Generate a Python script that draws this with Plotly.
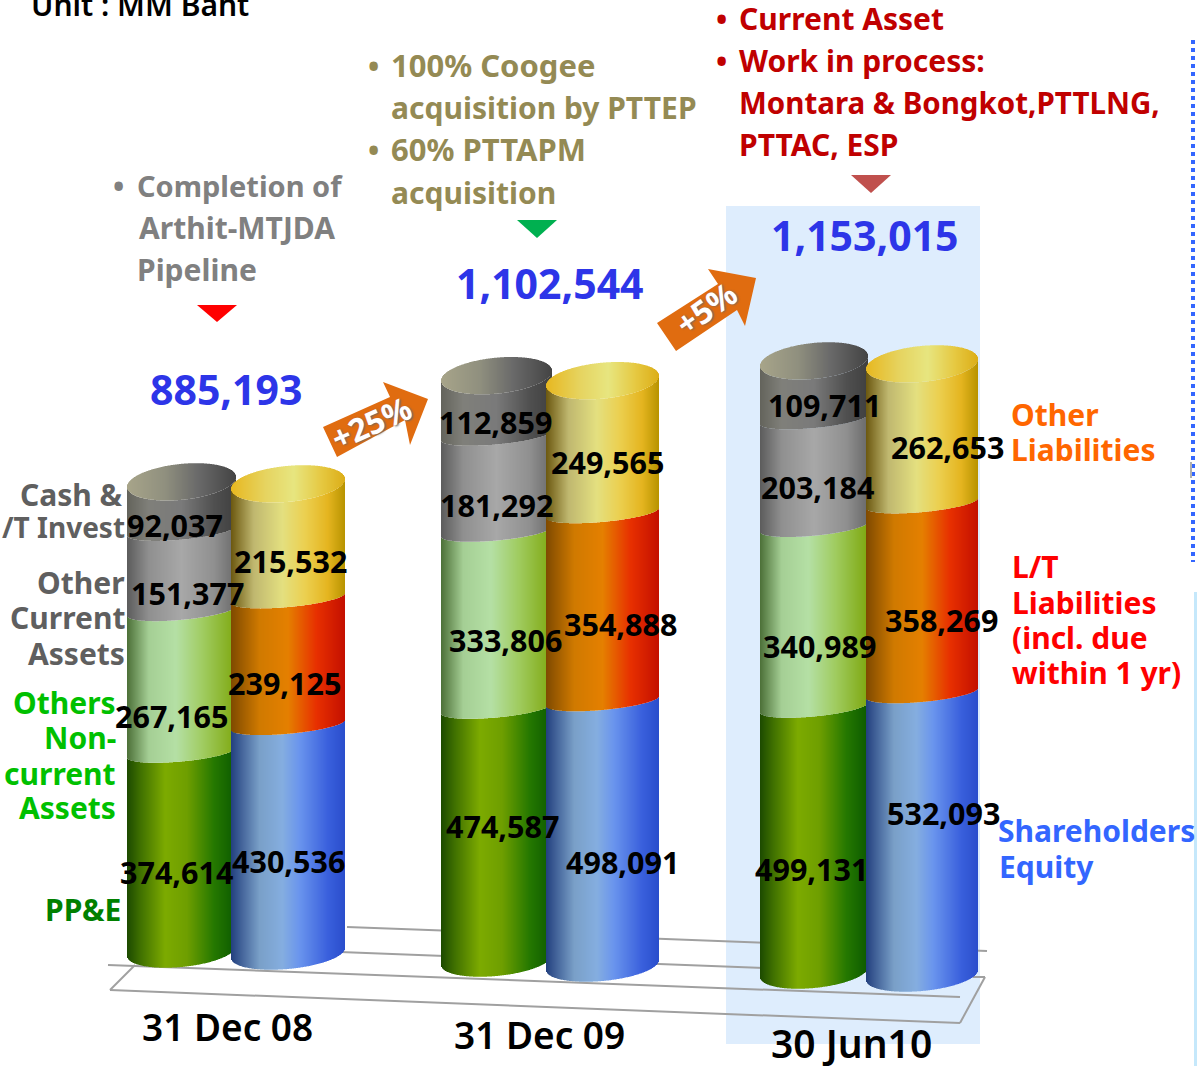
import numpy as np
import plotly.graph_objects as go

W, H = 1197, 1066
S = 0.53 / 1000  # pixels per MM Baht

# ---- data ----
dates = ["31 Dec 08", "31 Dec 09", "30 Jun10"]
totals = [885193, 1102544, 1153015]
ppe = [374614, 474587, 499131]
other_noncurrent = [267165, 333806, 340989]
other_current = [151377, 181292, 203184]
cash_invest = [92037, 112859, 109711]
equity = [430536, 498091, 532093]
lt_liab = [239125, 354888, 358269]
other_liab = [215532, 249565, 262653]

# ---- styling / layout constants ----
BODY = "Noto Sans"
G = {
    "green": [(0, "#1c4a00"), (.12, "#3f7000"), (.35, "#7dab00"), (.55, "#6f9f00"), (.8, "#257800"), (1, "#0c5a00")],
    "lgreen": [(0, "#4c7038"), (.2, "#a5cf95"), (.45, "#b5e0a5"), (.7, "#a0cc60"), (1, "#7fa810")],
    "gray": [(0, "#5c5c5c"), (.2, "#909090"), (.5, "#a8a8a8"), (.8, "#909090"), (1, "#6a6a6a")],
    "dgray": [(0, "#64645c"), (.2, "#80807a"), (.5, "#7a7a7a"), (.8, "#505050"), (1, "#404040")],
    "blue": [(0, "#23407f"), (.25, "#7aa0c8"), (.45, "#85aee0"), (.6, "#6a95ee"), (.85, "#3a60dd"), (1, "#2a4ecc")],
    "orange": [(0, "#7f4a00"), (.25, "#d07a00"), (.5, "#e58000"), (.75, "#e83000"), (1, "#c41000")],
    "yellow": [(0, "#6c5810"), (.2, "#c0b870"), (.45, "#e4e080"), (.65, "#ecd050"), (.85, "#e5b520"), (1, "#b89400")],
    "capgray": [(0, "#a8a58a"), (.35, "#90907f"), (.65, "#6a6a6a"), (1, "#444444")],
    "capyellow": [(0, "#e8b820"), (.3, "#e6d460"), (.55, "#e8e680"), (.8, "#e6c840"), (1, "#dcae18")],
}
# x-left, x-right, pixel y of the base centre
CYL_L = [(127, 236, 951), (441, 552, 960), (760, 868, 972)]
CYL_R = [(231, 345, 953), (546, 659, 965), (866, 978, 975)]
E_BASE, E_MID, E_TOP, TILT = 16, 9, 18, 5


def Y(px):
    return (H - px) / S


def hexrgb(c):
    return np.array([int(c[i:i + 2], 16) for i in (1, 3, 5)], float)


def grad(name, u):
    stops = G[name]
    pos = [p for p, _ in stops]
    cols = np.array([hexrgb(c) for _, c in stops])
    t = (u + 1) / 2
    return ["rgb(%d,%d,%d)" % tuple(np.interp(v, pos, cols[:, i]) for i in range(3)) for v in t]


def front(u, e):
    # data-unit offset of the front rim below the rim centre (right side sits higher)
    return (-e * np.sqrt(np.clip(1 - u * u, 0, 1)) + TILT * u) / S


def back(u, e):
    return (e * np.sqrt(np.clip(1 - u * u, 0, 1)) + TILT * u) / S


fig = go.Figure()


def cylinder(x0, x1, base_px, values, colors, cap):
    xs = np.arange(x0 + 0.5, x1, 1.0)
    u = (xs - (x0 + x1) / 2) / ((x1 - x0) / 2)
    base = Y(base_px)
    cum = 0
    n = len(values)
    for i, (v, c) in enumerate(zip(values, colors)):
        e_lo = E_BASE if i == 0 else E_MID
        e_hi = E_TOP if i == n - 1 else E_MID
        lo = base + cum + front(u, e_lo)
        hi = base + cum + v + front(u, e_hi)
        fig.add_bar(x=xs, y=hi - lo, base=lo, width=1.0, marker=dict(color=grad(c, u), line_width=0),
                    hoverinfo="skip", showlegend=False, name=c)
        cum += v
    lo = base + cum + front(u, E_TOP)
    hi = base + cum + back(u, E_TOP)
    fig.add_bar(x=xs, y=hi - lo, base=lo, width=1.0, marker=dict(color=grad(cap, u), line_width=0),
                hoverinfo="skip", showlegend=False, name=cap)


for i in range(3):
    cylinder(*CYL_L[i], [ppe[i], other_noncurrent[i], other_current[i], cash_invest[i]],
             ["green", "lgreen", "gray", "dgray"], "capgray")
    cylinder(*CYL_R[i], [equity[i], lt_liab[i], other_liab[i]],
             ["blue", "orange", "yellow"], "capyellow")

shapes = []


def rect(x0, y0, x1, y1, color, layer="below"):
    shapes.append(dict(type="rect", xref="x", yref="y", x0=x0, x1=x1, y0=Y(y0), y1=Y(y1),
                       fillcolor=color, line_width=0, layer=layer))


def poly(points, color, layer="above"):
    path = "M " + " L ".join(f"{x},{Y(y)}" for x, y in points) + " Z"
    shapes.append(dict(type="path", xref="x", yref="y", path=path, fillcolor=color, line_width=0, layer=layer))


def line(x0, y0, x1, y1, color="#a0a0a0", width=2, dash="solid", layer="below"):
    shapes.append(dict(type="line", xref="x", yref="y", x0=x0, x1=x1, y0=Y(y0), y1=Y(y1),
                       line=dict(color=color, width=width, dash=dash), layer=layer))


rect(726, 206, 980, 1044, "#deedfd")
rect(1194, 592, 1197, 1066, "#c5e8fb")
line(1193, 40, 1193, 562, "#3366ff", 4, "4px,4px")
line(1191, 462, 1191, 478, "#b0b0b0", 2)
# floor
line(110, 990, 960, 1023)
line(960, 1023, 985, 977)
line(973, 977, 985, 977)
line(110, 990, 135, 965)
line(108, 965, 960, 997)
line(340, 952, 975, 976)
line(347, 927, 987, 951)
# markers
poly([(197, 305), (237, 305), (217, 322)], "#ff0000")
poly([(517, 220), (557, 220), (537, 238)], "#00b050")
poly([(851, 175), (891, 175), (871, 193)], "#c0504d")
poly([(323, 427), (390, 397), (383, 382), (428, 399), (410, 445), (405, 420), (337, 457)], "#e06c10")
poly([(657, 323), (718, 284), (708, 269), (756, 278), (745, 326), (737, 310), (676, 351)], "#e06c10")

ann = []
PAD = {"left": -3, "right": 3, "center": 0}


def text(s, x, y, size=30, color="#000000", anchor="left", weight="bold", angle=0, shadow=None):
    font = dict(size=size, color=color, family=BODY, weight=weight)
    if shadow:
        font["shadow"] = shadow
    ann.append(dict(text=s, x=x + PAD[anchor], y=Y(y - 1), xref="x", yref="y", showarrow=False, xanchor=anchor,
                    yanchor="middle", font=font, textangle=angle))


text("Unit : MM Baht", 32, 5, 30, weight=600)
for s, x, y, sz in [("•", 114, 186, 30), ("Completion of", 138, 186, 29), ("Arthit-MTJDA", 140, 228, 30),
                    ("Pipeline", 138, 270, 30)]:
    text(s, x, y, sz, color="#808080")
for s, x, y, sz in [("•", 369, 66, 30), ("100% Coogee", 392, 66, 31), ("acquisition by PTTEP", 392, 108, 30),
                    ("•", 369, 150, 30), ("60% PTTAPM", 392, 150, 31), ("acquisition", 392, 193, 30)]:
    text(s, x, y, sz, color="#948a54")
for s, x, y, sz in [("•", 717, 19, 30), ("Current Asset", 740, 19, 30), ("•", 717, 61, 30),
                    ("Work in process:", 740, 61, 30), ("Montara & Bongkot,PTTLNG,", 740, 103, 29.5),
                    ("PTTAC, ESP", 740, 145, 30)]:
    text(s, x, y, sz, color="#c00000")

for s, x, y, sz in [("Cash &", 122, 495, 30), ("/T Invest", 124, 528, 28), ("Other", 124, 583, 30),
                    ("Current", 124, 618, 30), ("Assets", 124, 654, 30)]:
    text(s, x, y, sz, "#5f5f5f", "right")
for s, y in [("Others", 703), ("Non-", 738), ("current", 774), ("Assets", 808)]:
    text(s, 115, y, 30, "#00c000", "right")
text("PP&E", 120, 910, 30, "#008000", "right")
text("Other", 1012, 415, 30, "#ff6600")
text("Liabilities", 1012, 450, 30, "#ff6600")
for s, y in [("L/T", 567), ("Liabilities", 603), ("(incl. due", 638), ("within 1 yr)", 673)]:
    text(s, 1013, y, 30, "#ff0000")
text("Shareholders", 999, 831, 30, "#3366ff")
text("Equity", 1000, 867, 30, "#3366ff")

for v, (x, y) in zip(totals, [(226, 390), (550, 284), (865, 236)]):
    text(f"{v:,}", x, y, 41, "#2d35e8", "center")
for d, (x, y), sz in zip(dates, [(227, 1027), (539, 1035), (851, 1043)], [37, 37, 39]):
    text(d, x, y, sz, "#000000", "center", weight=600)

label_pos = {
    0: [(176, 873), (171, 717), (187, 594), (175, 526), (288, 862), (284, 684), (290, 562)],
    1: [(502, 827), (505, 641), (496, 506), (495, 423), (622, 863), (620, 625), (607, 463)],
    2: [(811, 870), (819, 647), (817, 488), (824, 406), (943, 814), (941, 621), (947, 448)],
}
for i in range(3):
    vals = [ppe[i], other_noncurrent[i], other_current[i], cash_invest[i], equity[i], lt_liab[i], other_liab[i]]
    for v, (x, y) in zip(vals, label_pos[i]):
        text(f"{v:,}", x, y, 30.5, "#000000", "center")

text("+25%", 371, 423, 32, "#ffffff", "center", angle=-24, shadow="1px 1px 2px #666666")
text("+5%", 705, 309, 32, "#ffffff", "center", angle=-35, shadow="1px 1px 2px #666666")

fig.update_layout(
    width=W, height=H, margin=dict(l=0, r=0, t=0, b=0), barmode="overlay",
    plot_bgcolor="#ffffff", paper_bgcolor="#ffffff", showlegend=False,
    xaxis=dict(range=[0, W], visible=False, fixedrange=True),
    yaxis=dict(range=[0, H / S], visible=False, fixedrange=True),
    shapes=shapes, annotations=ann,
)
fig.write_html("out.html", config=dict(displayModeBar=False),
               post_script="document.body.style.margin='0';document.body.style.overflow='hidden';")
